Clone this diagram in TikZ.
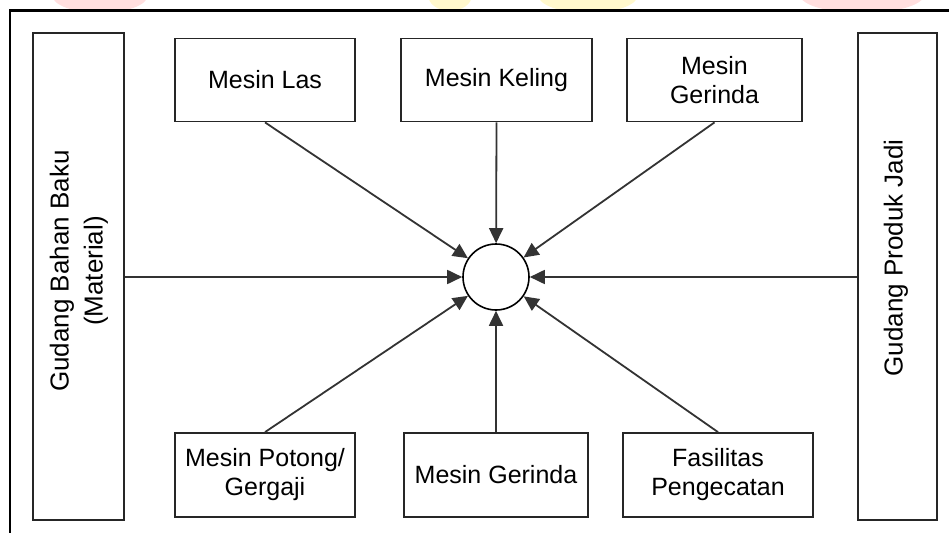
\documentclass[tikz,border=0pt]{standalone}
\usepackage{fontspec}
\setmainfont{Liberation Sans}
\usetikzlibrary{arrows.meta}
\begin{document}
\begin{tikzpicture}[x=1pt,y=-1pt,
  box/.style={draw=black!85,line width=1.8pt,fill=white,inner sep=0pt,align=center,
    font=\fontsize{25}{29}\selectfont},
  tallbox/.style={draw=black!85,line width=1.8pt,fill=white,inner sep=0pt},
  vtext/.style={rotate=90,align=center,inner sep=0pt,font=\fontsize{26}{34}\selectfont},
  hub/.style={circle,draw=black,line width=1.6pt,fill=white,minimum size=66pt,inner sep=0pt},
  arr/.style={draw=black!80,line width=1.8pt,-{Triangle[length=15pt,width=14pt]}},
  link/.style={draw=black!80,line width=1.8pt}]
\useasboundingbox (0,0) rectangle (949,532);
% faint watermark above the frame
\begin{scope}
\clip (0,0) rectangle (949,9);
\fill[red!50!pink,opacity=0.2] (100,-5) ellipse (48 and 18);
\fill[yellow!80!orange,opacity=0.2] (450,-5) ellipse (22 and 16);
\fill[yellow!80!orange,opacity=0.2] (588,-5) ellipse (50 and 18);
\fill[red!50!pink,opacity=0.2] (862,-5) ellipse (62 and 18);
\end{scope}
% outer frame
\draw[line width=2.8pt] (10,540) -- (10,10.5) -- (960,10.5);
% storage boxes
\node[tallbox,minimum width=91pt,minimum height=487pt] (gbb) at (78.5,276.5) {};
\node[vtext] (gbbt) at (79,271) {Gudang Bahan Baku\\(Material)};
\node[tallbox,minimum width=79pt,minimum height=487pt] (gpj) at (897.5,276.5) {};
\node[vtext] (gpjt) at (896,258) {Gudang Produk Jadi};
% machines
\node[box,minimum width=180pt,minimum height=83pt] (las) at (265,80) {Mesin Las};
\node[box,minimum width=191pt,minimum height=83pt] (kel) at (496.5,80) {Mesin Keling};
\node[box,minimum width=175pt,minimum height=83pt] (gert) at (714.5,80) {Mesin\\Gerinda};
\node[box,minimum width=180pt,minimum height=84pt] (pot) at (265,475) {Mesin Potong/\\Gergaji};
\node[box,minimum width=184pt,minimum height=84pt] (gerb) at (496,475) {Mesin Gerinda};
\node[box,minimum width=190pt,minimum height=84pt] (fas) at (718,475) {Fasilitas\\Pengecatan};
% hub
\node[hub] (c) at (496,277) {};
% connectors
\draw[arr] (las.south) -- (c);
\draw[arr] (kel.south) -- (c);
\draw[arr] (gert.south) -- (c);
\draw[arr] (pot.north) -- (c);
\draw[arr] (gerb.north) -- (c);
\draw[arr] (fas.north) -- (c);
\draw[arr] (gbb.east |- c) -- (c);
\draw[arr] (gpj.west |- c) -- (c);
\end{tikzpicture}
\end{document}
